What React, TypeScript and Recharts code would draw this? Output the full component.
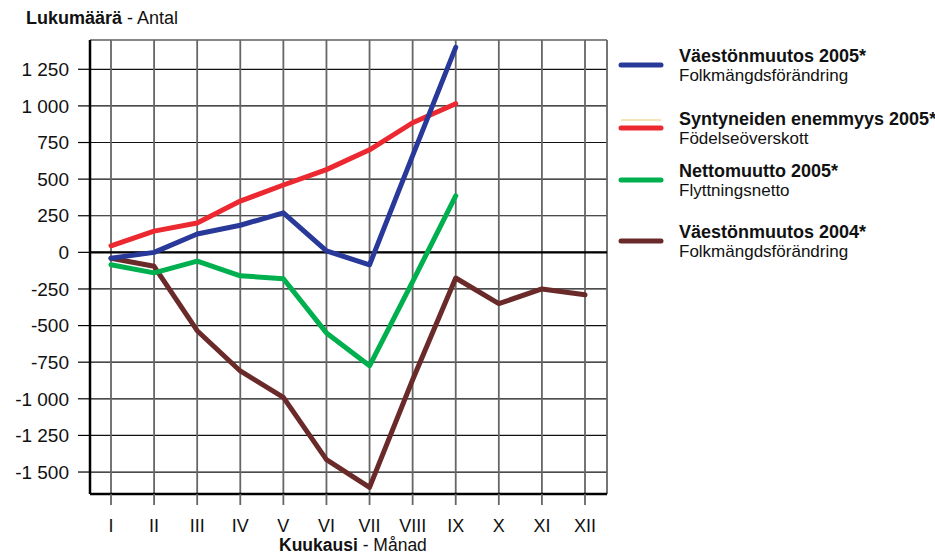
import { CartesianGrid, Line, LineChart, ReferenceLine, XAxis, YAxis } from 'recharts';

const months = ['I', 'II', 'III', 'IV', 'V', 'VI', 'VII', 'VIII', 'IX', 'X', 'XI', 'XII'];

// Väestönmuutos 2005* / Folkmängdsförändring
const popChange2005 = [-40, 0, 125, 185, 270, 10, -85, 660, 1400, null, null, null];
// Syntyneiden enemmyys 2005* / Födelseöverskott
const birthSurplus2005 = [45, 145, 200, 350, 460, 565, 700, 885, 1015, null, null, null];
// Nettomuutto 2005* / Flyttningsnetto
const netMigration2005 = [-85, -140, -60, -160, -180, -550, -775, -200, 385, null, null, null];
// Väestönmuutos 2004* / Folkmängdsförändring
const popChange2004 = [-40, -95, -535, -810, -990, -1415, -1605, -870, -175, -350, -250, -290];

const yTicks = [-1500, -1250, -1000, -750, -500, -250, 0, 250, 500, 750, 1000, 1250];

const BLUE = '#29399a';
const RED = '#ec2830';
const GREEN = '#00b04f';
const BROWN = '#6b2a2a';

const FONT = '"Liberation Sans", Arial, sans-serif';

const data = months.map((m, i) => ({
  month: m,
  pop2005: popChange2005[i],
  births: birthSurplus2005[i],
  migration: netMigration2005[i],
  pop2004: popChange2004[i],
}));

const legendItems = [
  { color: BLUE, title: 'Väestönmuutos 2005*', sub: 'Folkmängdsförändring', y: 65 },
  { color: RED, title: 'Syntyneiden enemmyys 2005*', sub: 'Födelseöverskott', y: 128 },
  { color: GREEN, title: 'Nettomuutto 2005*', sub: 'Flyttningsnetto', y: 180 },
  { color: BROWN, title: 'Väestönmuutos 2004*', sub: 'Folkmängdsförändring', y: 241 },
];

function formatTick(v: number): string {
  const sign = v < 0 ? '-' : '';
  const abs = Math.abs(v);
  if (abs >= 1000) {
    const rest = String(abs % 1000).padStart(3, '0');
    return `${sign}${Math.floor(abs / 1000)} ${rest}`;
  }
  return `${sign}${abs}`;
}

function Overlay() {
  return (
    <svg
      width={935}
      height={556}
      style={{ position: 'absolute', left: 0, top: 0, pointerEvents: 'none', fontFamily: FONT }}
    >
      <text x={26} y={24} fontSize={18} fill="#111">
        <tspan fontWeight="bold">Lukumäärä</tspan> - Antal
      </text>
      <text x={279} y={551} fontSize={17.5} fill="#111">
        <tspan fontWeight="bold">Kuukausi</tspan> - Månad
      </text>
      {legendItems.map((it, i) => (
        <g key={it.title}>
          {i === 1 && (
            <line x1={621} x2={661} y1={120} y2={120} stroke="#f5e4b8" strokeWidth={2} />
          )}
          <line
            x1={621}
            x2={661}
            y1={it.y}
            y2={it.y}
            stroke={it.color}
            strokeWidth={5}
            strokeLinecap="round"
          />
          <text x={679} y={it.y - 3.5} fontSize={18} fontWeight="bold" fill="#111">
            {it.title}
          </text>
          <text x={679} y={it.y + 16} fontSize={17} fill="#111">
            {it.sub}
          </text>
        </g>
      ))}
    </svg>
  );
}

export default function App() {
  return (
    <div style={{ position: 'absolute', left: 0, top: 0, width: 935, height: 556, background: '#fff' }}>
      <LineChart
        width={935}
        height={556}
        data={data}
        margin={{ top: 40, right: 328, bottom: 0, left: 0 }}
        style={{ fontFamily: FONT }}
      >
        <CartesianGrid vertical={false} stroke="#111" strokeWidth={1.2} />
        <CartesianGrid horizontal={false} stroke="#666" strokeWidth={1.8} />
        <XAxis
          dataKey="month"
          height={62}
          interval={0}
          padding={{ left: 21, right: 22 }}
          tickSize={11}
          tickMargin={14}
          axisLine={{ stroke: '#000', strokeWidth: 2.5 }}
          tickLine={{ stroke: '#666', strokeWidth: 1.8 }}
          tick={{ fill: '#111', fontSize: 18 }}
        />
        <XAxis
          xAxisId="top"
          orientation="top"
          dataKey="month"
          height={0}
          tick={false}
          tickLine={false}
          axisLine={{ stroke: '#000', strokeWidth: 2.5 }}
        />
        <YAxis
          width={90}
          domain={[-1650, 1450]}
          ticks={yTicks}
          allowDataOverflow
          tickFormatter={formatTick}
          tickSize={12}
          tickMargin={9}
          axisLine={{ stroke: '#000', strokeWidth: 2.5 }}
          tickLine={{ stroke: '#000', strokeWidth: 1.2 }}
          tick={{ fill: '#111', fontSize: 19 }}
        />
        <YAxis
          yAxisId="right"
          orientation="right"
          width={0}
          domain={[-1650, 1450]}
          tick={false}
          tickLine={false}
          axisLine={{ stroke: '#000', strokeWidth: 2.5 }}
        />
        <ReferenceLine y={0} stroke="#000" strokeWidth={2.2} />
        <Line
          dataKey="pop2004"
          stroke={BROWN}
          strokeWidth={5}
          dot={false}
          strokeLinejoin="round"
          strokeLinecap="round"
          isAnimationActive={false}
        />
        <Line
          dataKey="migration"
          stroke={GREEN}
          strokeWidth={5}
          dot={false}
          strokeLinejoin="round"
          strokeLinecap="round"
          isAnimationActive={false}
        />
        <Line
          dataKey="births"
          stroke={RED}
          strokeWidth={5}
          dot={false}
          strokeLinejoin="round"
          strokeLinecap="round"
          isAnimationActive={false}
        />
        <Line
          dataKey="pop2005"
          stroke={BLUE}
          strokeWidth={5}
          dot={false}
          strokeLinejoin="round"
          strokeLinecap="round"
          isAnimationActive={false}
        />
      </LineChart>
      <Overlay />
    </div>
  );
}
